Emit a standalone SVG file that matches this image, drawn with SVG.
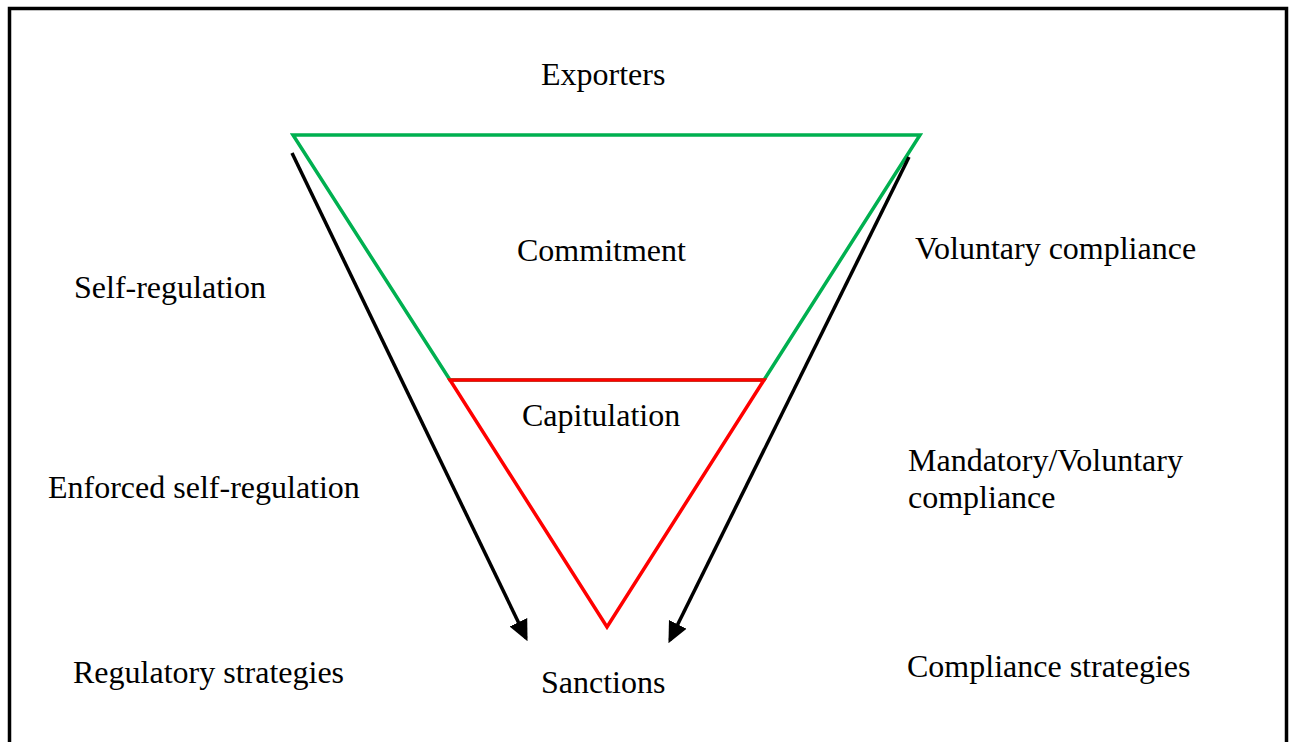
<svg xmlns="http://www.w3.org/2000/svg" width="1293" height="742" viewBox="0 0 1293 742">
<style>
text{font-family:"Liberation Serif","Times New Roman",serif;font-size:32px;fill:#000}
.arrow{stroke:#000;stroke-width:3.5;fill:none}
</style>
<defs>
<marker id="ah" markerWidth="6" markerHeight="6" refX="5" refY="3" orient="auto" markerUnits="strokeWidth" viewBox="0 0 6 6">
<path d="M0,0.2 L6,3 L0,5.8 Z" fill="#000"/>
</marker>
</defs>
<rect width="1293" height="742" fill="#fff"/>
<rect id="frame" x="9.5" y="8.5" width="1277" height="800" fill="none" stroke="#000" stroke-width="3.5"/>
<g id="commitment-band">
<polygon points="293,135 920,135 764,380 450,380" fill="none" stroke="#00b050" stroke-width="3.5" stroke-linejoin="miter"/>
</g>
<g id="capitulation-band">
<polygon points="450,380 764,380 607,627" fill="none" stroke="#ff0000" stroke-width="3.5"/>
</g>
<g id="connectors">
<line class="arrow" x1="292" y1="153" x2="526" y2="638" marker-end="url(#ah)"/>
<line class="arrow" x1="909" y1="157" x2="670" y2="640" marker-end="url(#ah)"/>
</g>
<g id="labels">
<text x="541" y="85">Exporters</text>
<text x="517" y="261">Commitment</text>
<text x="522" y="426">Capitulation</text>
<text x="541" y="693">Sanctions</text>
<text x="74" y="298">Self-regulation</text>
<text x="48" y="498">Enforced self-regulation</text>
<text x="73" y="683">Regulatory strategies</text>
<text x="915" y="259">Voluntary compliance</text>
<text x="908" y="471">Mandatory/Voluntary</text>
<text x="908" y="508">compliance</text>
<text x="907" y="677">Compliance strategies</text>
</g>
</svg>
